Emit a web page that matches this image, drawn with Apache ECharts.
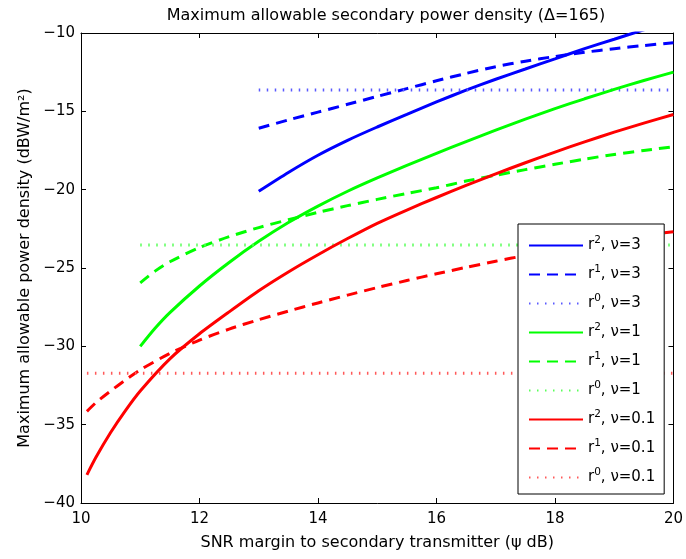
<!DOCTYPE html>
<html><head><meta charset="utf-8">
<script src="https://cdn.jsdelivr.net/npm/echarts@6/dist/echarts.min.js"></script>
<style>html,body{margin:0;padding:0;background:#fff}#c{width:686px;height:559px}</style>
</head><body><div id="c"></div>
<script>
// ---- data ----
const xTicks = [10, 12, 14, 16, 18, 20];
const yTicks = [-40, -35, -30, -25, -20, -15, -10];

// nu = 0.1 (red), starts at 10.1
const xRed      = [10.1, 10.25, 10.5, 10.75, 11, 11.5, 12, 12.5, 13, 13.5, 14, 14.5, 15, 15.5, 16, 16.5, 17, 17.5, 18, 18.5, 19, 19.5, 20];
const r2Nu01    = [-38.2, -37.1, -35.5, -34.1, -32.85, -30.8, -29.2, -27.8, -26.45, -25.25, -24.15, -23.12, -22.15, -21.3, -20.5, -19.73, -18.99, -18.28, -17.6, -16.95, -16.33, -15.75, -15.2];
const r1Nu01    = [-34.15, -33.6, -32.85, -32.15, -31.5, -30.45, -29.6, -28.9, -28.3, -27.75, -27.23, -26.73, -26.25, -25.8, -25.37, -24.96, -24.57, -24.2, -23.85, -23.52, -23.2, -22.93, -22.68];
const r0Nu01    = -31.72;

// nu = 1 (green), starts at 11
const xGreen    = [11, 11.25, 11.5, 12, 12.5, 13, 13.5, 14, 14.5, 15, 15.5, 16, 16.5, 17, 17.5, 18, 18.5, 19, 19.5, 20];
const r2Nu1     = [-30.0, -28.85, -27.85, -26.15, -24.65, -23.3, -22.1, -21.05, -20.1, -19.25, -18.45, -17.68, -16.93, -16.2, -15.5, -14.83, -14.2, -13.6, -13.03, -12.5];
const r1Nu1     = [-25.95, -25.2, -24.6, -23.7, -23.0, -22.42, -21.92, -21.45, -21.02, -20.62, -20.24, -19.88, -19.45, -19.08, -18.72, -18.38, -18.05, -17.75, -17.5, -17.26];
const r0Nu1     = -23.53;

// nu = 3 (blue), starts at 13
const xBlue     = [13, 13.5, 14, 14.5, 15, 15.5, 16, 16.5, 17, 17.5, 18, 18.5, 19, 19.5, 20];
const r2Nu3     = [-20.1, -18.9, -17.8, -16.85, -16.0, -15.2, -14.4, -13.65, -12.95, -12.3, -11.65, -11.0, -10.4, -9.8, -9.25];
const r1Nu3     = [-16.08, -15.55, -15.05, -14.55, -14.05, -13.55, -13.05, -12.58, -12.15, -11.8, -11.5, -11.23, -11.0, -10.8, -10.62];
const r0Nu3     = -13.64;

const xEnd = 20;
// ---- build ----
const zip = (xs, ys) => xs.map((x, i) => [x, ys[i]]);
const flat = (x0, v) => [[x0, v], [xEnd, v]];
const BLUE = '#0000ff', GREEN = '#00ff00', RED = '#ff0000';
function solid(name, color, data) {
  return {name, type: 'line', data, showSymbol: false, symbol: 'none', smooth: 0.25, clip: true,
    lineStyle: {color, width: 3, type: 'solid'}, itemStyle: {color}};
}
function dashed(name, color, data) {
  return {name, type: 'line', data, showSymbol: false, symbol: 'none', smooth: 0.25, clip: true,
    lineStyle: {color, width: 3, type: [11, 7]}, itemStyle: {color}};
}
function dotted(name, color, data) {
  return {name, type: 'line', data, showSymbol: false, symbol: 'none', clip: true,
    lineStyle: {color, width: 3, type: [1.5, 6.5], cap: 'butt'}, itemStyle: {color}};
}
const series = [
  solid('r², ν=3', BLUE, zip(xBlue, r2Nu3)),
  dashed('r¹, ν=3', BLUE, zip(xBlue, r1Nu3)),
  dotted('r⁰, ν=3', '#5a5aff', flat(xBlue[0], r0Nu3)),
  solid('r², ν=1', GREEN, zip(xGreen, r2Nu1)),
  dashed('r¹, ν=1', GREEN, zip(xGreen, r1Nu1)),
  dotted('r⁰, ν=1', '#5aff5a', flat(xGreen[0], r0Nu1)),
  solid('r², ν=0.1', RED, zip(xRed, r2Nu01)),
  dashed('r¹, ν=0.1', RED, zip(xRed, r1Nu01)),
  dotted('r⁰, ν=0.1', '#ff5a5a', flat(xRed[0], r0Nu01)),
];
const supMap = {'⁰': '0', '¹': '1', '²': '2'};
function legendFmt(name) {
  const m = name.match(/^r([⁰¹²])(.*)$/);
  if (!m) return name;
  return '{n|r}{s|' + supMap[m[1]] + '}{n|' + m[2] + '}';
}
const FONT = '"DejaVu Sans", Verdana, sans-serif';
const minus = v => String(v).replace('-', '\u2212');
const axisCommon = {
  axisLine: {show: true, onZero: false, lineStyle: {color: '#000', width: 1}},
  axisTick: {show: true, inside: true, length: 5, lineStyle: {color: '#000'}},
  splitLine: {show: false},
};
const chart = echarts.init(document.getElementById('c'), null, {renderer: 'canvas'});
chart.setOption({
  animation: false,
  backgroundColor: '#fff',
  title: {text: 'Maximum allowable secondary power density (\u0394=165)', left: 381, textAlign: 'center', top: 3,
    textStyle: {fontFamily: FONT, fontSize: 16, fontWeight: 'normal', color: '#000'}},
  grid: {left: 81, right: 9, top: 33, bottom: 56, containLabel: false},
  legend: {orient: 'vertical', left: 518, top: 224, itemWidth: 54, itemHeight: 14, itemGap: 8.0,
    padding: [11, 9, 6, 10], backgroundColor: '#fff', borderColor: '#000', borderWidth: 1,
    itemStyle: {opacity: 0},
    formatter: legendFmt,
    textStyle: {fontFamily: FONT, fontSize: 15, color: '#000',
      rich: {
        n: {fontFamily: FONT, fontSize: 15, color: '#000', lineHeight: 16},
        s: {fontFamily: FONT, fontSize: 10.5, color: '#000', lineHeight: 6, padding: [0, 0, 10, 0]}
      }},
    data: series.map(s => s.name)},
  xAxis: [
    Object.assign({type: 'value', min: xTicks[0], max: xTicks[xTicks.length - 1], interval: xTicks[1] - xTicks[0],
      name: 'SNR margin to secondary transmitter (\u03c8 dB)', nameLocation: 'middle', nameGap: 32,
      nameTextStyle: {fontFamily: FONT, fontSize: 16, color: '#000'},
      axisLabel: {fontFamily: FONT, fontSize: 15, color: '#000', margin: 9, formatter: v => minus(v)}}, axisCommon),
    Object.assign({type: 'value', position: 'top', min: xTicks[0], max: xTicks[xTicks.length - 1], interval: xTicks[1] - xTicks[0],
      axisLabel: {show: false}}, axisCommon),
  ],
  yAxis: [
    Object.assign({type: 'value', min: yTicks[0], max: yTicks[yTicks.length - 1], interval: yTicks[1] - yTicks[0],
      name: 'Maximum allowable power density (dBW/m\u00b2)', nameLocation: 'middle', nameGap: 44,
      nameTextStyle: {fontFamily: FONT, fontSize: 16, color: '#000'},
      axisLabel: {fontFamily: FONT, fontSize: 15, color: '#000', margin: 6, formatter: v => minus(v)}}, axisCommon),
    Object.assign({type: 'value', position: 'right', min: yTicks[0], max: yTicks[yTicks.length - 1], interval: yTicks[1] - yTicks[0],
      axisLabel: {show: false}}, axisCommon),
  ],
  series: series,
});
</script></body></html>
